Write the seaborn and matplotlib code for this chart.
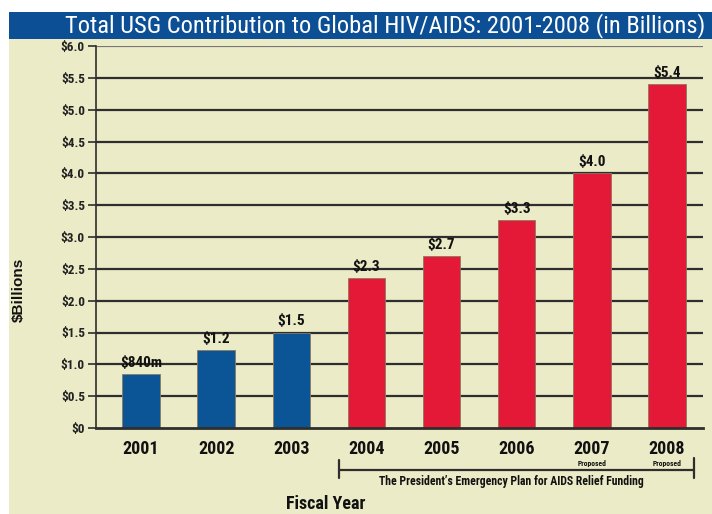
import matplotlib
matplotlib.use("Agg")
import matplotlib.pyplot as plt
import seaborn as sns
import pandas as pd
from matplotlib.patches import Rectangle
from matplotlib.lines import Line2D
from matplotlib import font_manager

years = ["2001", "2002", "2003", "2004", "2005", "2006", "2007", "2008"]
values = [0.85, 1.22, 1.5, 2.35, 2.7, 3.27, 4.0, 5.4]
value_labels = ["$840m", "$1.2", "$1.5", "$2.3", "$2.7", "$3.3", "$4.0", "$5.4"]
program = ["pre", "pre", "pre", "pepfar", "pepfar", "pepfar", "pepfar", "pepfar"]
proposed_years = ["2007", "2008"]
yticks = [0, 0.5, 1.0, 1.5, 2.0, 2.5, 3.0, 3.5, 4.0, 4.5, 5.0, 5.5, 6.0]
ytick_labels = ["$0", "$0.5", "$1.0", "$1.5", "$2.0", "$2.5", "$3.0", "$3.5",
                "$4.0", "$4.5", "$5.0", "$5.5", "$6.0"]
title = "Total USG Contribution to Global HIV/AIDS: 2001-2008 (in Billions)"

BLUE_BAR = "#0b5597"
RED_BAR = "#e31937"
BAND = "#0c4f94"
BEIGE = "#ebebc8"
DARK = "#2e2e2e"

sns.set_theme(style="white")

# pick a condensed family if one is installed
cands = []
for f in font_manager.fontManager.ttflist:
    st = str(f.stretch).lower()
    if ("narrow" in f.name.lower() or "condensed" in f.name.lower()
            or st in ("condensed", "semi-condensed", "semicondensed")
            or (isinstance(f.stretch, int) and f.stretch < 500)):
        cands.append(f)
pref = None
for key in ["Liberation Sans Narrow", "Roboto Condensed", "Open Sans Condensed", "DejaVu Sans"]:
    for f in cands:
        if f.name == key:
            pref = f
            break
    if pref:
        break
if pref is None and cands:
    pref = cands[0]
if pref is not None:
    NARROW = pref.name
    STRETCH = pref.stretch
else:
    NARROW = "Liberation Sans"
    STRETCH = "normal"

plt.rcParams["font.family"] = [NARROW, "DejaVu Sans"]
plt.rcParams["font.stretch"] = STRETCH

df = pd.DataFrame({"year": years, "value": values, "program": program})

W, H = 712, 514
fig = plt.figure(figsize=(W / 100, H / 100), dpi=100)
fig.patch.set_facecolor("white")

def fx(px):
    return px / W

def fy(py):
    return 1 - py / H

# background panels (behind the axes)
fig.patches.append(Rectangle((fx(9), 0), 1 - fx(9), fy(39), transform=fig.transFigure,
                             facecolor=BEIGE, edgecolor="none", zorder=-5))
fig.patches.append(Rectangle((fx(9), fy(39)), 1 - fx(9), fy(12) - fy(39), transform=fig.transFigure,
                             facecolor=BAND, edgecolor="none", zorder=-5))

ax = fig.add_axes([fx(96), fy(428), fx(703) - fx(96), fy(46) - fy(428)])
ax.set_facecolor("none")
ax.set_zorder(2)

palette = {"pre": BLUE_BAR, "pepfar": RED_BAR}
sns.barplot(data=df, x="year", y="value", hue="program", palette=palette,
            dodge=False, width=0.5, legend=False, ax=ax, zorder=3,
            edgecolor="#8a7a60", linewidth=0.6, saturation=1)

ax.set_xlim(-0.6, 7.48)
ax.set_ylim(0, 6.0)
ax.set_yticks(yticks)
ax.set_yticklabels(ytick_labels, fontsize=9.5, fontweight="bold", color="#222222")
ax.set_xticks(range(len(years)))
ax.set_xticklabels(years, fontsize=13, fontweight="bold", color="#111111")
ax.tick_params(axis="y", which="both", left=True, length=6, width=1.2, color=DARK, pad=2)
ax.tick_params(axis="x", bottom=False, length=0, pad=9)

for yv in yticks[1:]:
    col = "#777777" if yv == 6.0 else DARK
    ax.axhline(yv, color=col, linewidth=1.6, zorder=1)

for s in ["top", "right"]:
    ax.spines[s].set_visible(False)
ax.spines["left"].set_color(DARK)
ax.spines["left"].set_linewidth(1.2)
ax.spines["bottom"].set_color(DARK)
ax.spines["bottom"].set_linewidth(2)
ax.spines["bottom"].set_zorder(4)
ax.set_xlabel("")
ax.set_ylabel("")

for i, (v, lab) in enumerate(zip(values, value_labels)):
    ax.annotate(lab, (i, v), xytext=(0, 3), textcoords="offset points",
                ha="center", va="bottom", fontsize=11, fontweight="bold", color="#111111")

for yr in proposed_years:
    i = years.index(yr)
    ax.annotate("Proposed", (i, 0), xytext=(0, -25.5), textcoords="offset points",
                ha="center", va="center", fontsize=5.5, fontweight="bold", color="#111111",
                annotation_clip=False)

# bracket for PEPFAR
fig.add_artist(Line2D([fx(339), fx(694)], [fy(470), fy(470)], color=DARK, linewidth=1.6))
fig.add_artist(Line2D([fx(339), fx(339)], [fy(460), fy(478)], color=DARK, linewidth=1.6))
fig.add_artist(Line2D([fx(694), fx(694)], [fy(458), fy(478)], color=DARK, linewidth=1.6))
fig.text(fx(511), fy(481), "The President\u2019s Emergency Plan for AIDS Relief Funding",
         ha="center", va="center", fontsize=8.5, fontweight="bold", color="#111111")

fig.text(fx(326), fy(504), "Fiscal Year", ha="center", va="center",
         fontsize=13, fontweight="bold", color="#111111")
fig.text(fx(19), fy(290), "$Billions", ha="center", va="center", rotation=90,
         fontsize=11, fontweight="bold", color="#111111",
         family=["Liberation Sans", "DejaVu Sans"], stretch="normal")

t = fig.text(fx(705), fy(25.5), title, ha="right", va="center", fontsize=17, color="white")
# fit title width to the band (about 640 px)
fig.canvas.draw()
w = t.get_window_extent().width
t.set_fontsize(17 * 640 / w)

fig.savefig("out.png", dpi=100, facecolor=fig.get_facecolor())
